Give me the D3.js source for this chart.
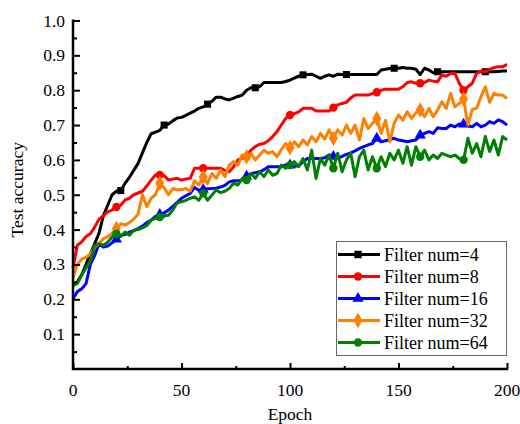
<!DOCTYPE html>
<html><head><meta charset="utf-8">
<script src="https://cdn.jsdelivr.net/npm/d3@7"></script>
<style>body{margin:0;background:#fff}svg{display:block}</style>
</head><body>
<script>
// epochs sampled every 2
const epochs = d3.range(0, 201, 2);
const seriesNames = ["Filter num=4","Filter num=8","Filter num=16","Filter num=32","Filter num=64"];
const acc4 = [0.24,0.25,0.27,0.30,0.33,0.36,0.39,0.44,0.47,0.50,0.51,0.512,0.533,0.55,0.57,0.59,0.62,0.65,0.675,0.68,
0.685,0.70,0.703,0.712,0.72,0.722,0.728,0.734,0.74,0.748,0.752,0.76,0.768,0.78,0.78,0.775,0.772,0.777,0.782,0.786,
0.80,0.807,0.807,0.81,0.822,0.822,0.822,0.822,0.822,0.825,0.829,0.835,0.84,0.844,0.845,0.846,0.84,0.834,0.84,0.844,
0.84,0.846,0.845,0.845,0.845,0.845,0.845,0.845,0.845,0.845,0.845,0.858,0.86,0.862,0.863,0.863,0.865,0.863,0.863,0.86,
0.845,0.863,0.858,0.85,0.853,0.853,0.853,0.853,0.853,0.853,0.853,0.853,0.853,0.853,0.853,0.853,0.853,0.853,0.854,0.855,0.855];
const acc8 = [0.29,0.355,0.365,0.38,0.388,0.407,0.43,0.44,0.451,0.456,0.465,0.47,0.485,0.49,0.50,0.505,0.51,0.525,0.542,0.557,
0.557,0.555,0.542,0.545,0.547,0.542,0.545,0.547,0.576,0.576,0.576,0.576,0.576,0.576,0.576,0.57,0.566,0.58,0.60,0.605,
0.609,0.628,0.638,0.645,0.647,0.655,0.667,0.681,0.70,0.719,0.729,0.733,0.738,0.748,0.748,0.748,0.74,0.74,0.74,0.74,
0.75,0.758,0.762,0.765,0.778,0.786,0.786,0.786,0.786,0.79,0.794,0.80,0.803,0.803,0.803,0.803,0.81,0.822,0.824,0.82,
0.82,0.822,0.829,0.826,0.824,0.844,0.84,0.848,0.848,0.82,0.80,0.81,0.82,0.848,0.855,0.853,0.86,0.865,0.867,0.867,0.874];
const acc16 = [0.202,0.222,0.23,0.245,0.30,0.326,0.36,0.35,0.353,0.362,0.372,0.384,0.386,0.393,0.397,0.403,0.41,0.42,0.427,0.438,
0.443,0.448,0.456,0.467,0.478,0.49,0.497,0.504,0.521,0.513,0.515,0.517,0.518,0.519,0.522,0.527,0.537,0.54,0.54,0.542,
0.553,0.561,0.563,0.566,0.572,0.58,0.58,0.58,0.58,0.586,0.585,0.582,0.583,0.595,0.604,0.604,0.604,0.604,0.606,0.614,
0.61,0.604,0.61,0.616,0.62,0.626,0.633,0.638,0.643,0.647,0.662,0.652,0.655,0.658,0.662,0.657,0.655,0.652,0.655,0.657,
0.671,0.676,0.681,0.676,0.692,0.69,0.69,0.70,0.695,0.703,0.702,0.698,0.695,0.705,0.695,0.70,0.71,0.705,0.715,0.71,0.70];
const acc32 = [0.262,0.30,0.315,0.32,0.33,0.35,0.36,0.374,0.38,0.39,0.403,0.417,0.413,0.42,0.43,0.445,0.50,0.466,0.49,0.50,
0.533,0.52,0.50,0.518,0.514,0.514,0.518,0.51,0.54,0.528,0.551,0.532,0.561,0.547,0.571,0.552,0.585,0.595,0.585,0.614,
0.609,0.619,0.60,0.614,0.628,0.619,0.624,0.609,0.63,0.647,0.635,0.652,0.638,0.657,0.643,0.667,0.652,0.676,0.66,0.686,
0.662,0.686,0.671,0.70,0.676,0.70,0.657,0.719,0.69,0.705,0.719,0.676,0.714,0.652,0.705,0.729,0.714,0.738,0.719,0.735,
0.743,0.724,0.748,0.724,0.743,0.767,0.748,0.791,0.752,0.762,0.775,0.70,0.745,0.748,0.781,0.81,0.765,0.791,0.786,0.786,0.776];
const acc64 = [0.24,0.245,0.269,0.29,0.31,0.355,0.36,0.355,0.364,0.379,0.388,0.38,0.393,0.384,0.398,0.40,0.405,0.412,0.427,0.432,
0.436,0.44,0.441,0.456,0.477,0.48,0.484,0.49,0.494,0.484,0.504,0.484,0.499,0.514,0.506,0.51,0.518,0.533,0.528,0.547,
0.542,0.561,0.547,0.566,0.552,0.571,0.556,0.561,0.585,0.576,0.585,0.595,0.581,0.604,0.571,0.628,0.547,0.604,0.585,0.614,
0.576,0.619,0.566,0.60,0.619,0.552,0.609,0.628,0.571,0.609,0.576,0.609,0.581,0.619,0.60,0.628,0.59,0.638,0.585,0.638,
0.609,0.628,0.60,0.614,0.604,0.619,0.614,0.609,0.614,0.604,0.60,0.662,0.619,0.647,0.609,0.667,0.624,0.657,0.614,0.667,0.657];
const markerEpochs4 = [22,42,62,84,106,126,148,168,190];
const markerEpochsOther = [20,40,60,80,100,120,140,160,180];
const xTicks = [0,50,100,150,200];
const yTicks = [0.1,0.2,0.3,0.4,0.5,0.6,0.7,0.8,0.9,1.0];
const colors = ["#000000","#ff0000","#0000ff","#ff8000","#008000"];
const symbols = [d3.symbolSquare, d3.symbolCircle, d3.symbolTriangle, d3.symbolDiamond, d3.symbolCircle];
const allSeries = [acc4, acc8, acc16, acc32, acc64];

const W = 520, H = 424;
const m = {left:73, right:13, top:20.5, bottom:55};
const svg = d3.select("body").append("svg").attr("width", W).attr("height", H);
const x = d3.scaleLinear().domain([0,200]).range([m.left, W - m.right]);
const y = d3.scaleLinear().domain([0,1]).range([H - m.bottom, m.top]);
const font = "'Liberation Serif','Times New Roman',serif";

const line = d3.line().x((d,i)=>x(epochs[i])).y(d=>y(d));
allSeries.forEach((s, k) => {
  svg.append("path").datum(s).attr("d", line).attr("fill","none")
    .attr("stroke", colors[k]).attr("stroke-width", 3).attr("stroke-linejoin","round");
  const me = k === 0 ? markerEpochs4 : markerEpochsOther;
  const sizes = [50, 55, 55, 70, 55];
  svg.selectAll(null).data(me).enter().append("path")
    .attr("d", d3.symbol().type(symbols[k]).size(sizes[k]))
    .attr("transform", e => `translate(${x(e)},${y(s[epochs.indexOf(e)])})`)
    .attr("fill", colors[k]);
});

// axes (ticks inward)
const xAxis = svg.append("g").attr("transform",`translate(0,${y(0)})`)
  .call(d3.axisTop(x).tickValues(d3.range(0,201,25)).tickSize(5).tickFormat(""));
xAxis.select(".domain").attr("stroke-width",2.5).attr("d",`M${x(0)-1},0H${x(200)+1}`);
xAxis.selectAll(".tick line").attr("stroke-width",2).attr("y2", d => d%50===0 ? -6 : -3);
svg.selectAll(null).data(xTicks).enter().append("text")
  .attr("x", d=>x(d)).attr("y", y(0)+27).attr("text-anchor","middle")
  .attr("font-family",font).attr("font-size",17.5).text(d=>d);

const yAxis = svg.append("g").attr("transform",`translate(${x(0)},0)`)
  .call(d3.axisRight(y).tickValues(d3.range(0.05,1.001,0.05)).tickSize(6).tickFormat(""));
yAxis.select(".domain").attr("stroke-width",2.5).attr("d",`M0,${y(1)-1}V${y(0)+1}`);
yAxis.selectAll(".tick line").attr("stroke-width",2).attr("x2", (d,i) => i%2===1 ? 7 : 4);
svg.selectAll(null).data(yTicks).enter().append("text")
  .attr("x", 65).attr("y", d=>y(d)+6).attr("text-anchor","end")
  .attr("font-family",font).attr("font-size",17.5).text(d=>d.toFixed(1));

svg.append("text").attr("x", x(100)).attr("y", 420).attr("text-anchor","middle")
  .attr("font-family",font).attr("font-size",17.5).text("Epoch");
svg.append("text").attr("transform",`translate(23,${(y(0)+y(1))/2 - 5}) rotate(-90)`)
  .attr("text-anchor","middle").attr("font-family",font).attr("font-size",17.5).text("Test accuracy");

// legend
const lg = svg.append("g");
lg.append("rect").attr("x",336.5).attr("y",241.5).attr("width",170).attr("height",114)
  .attr("fill","#fff").attr("stroke","#666").attr("stroke-width",1);
seriesNames.forEach((n,k) => {
  const yy = 254.5 + k*22;
  lg.append("line").attr("x1",338).attr("x2",380).attr("y1",yy).attr("y2",yy)
    .attr("stroke",colors[k]).attr("stroke-width",3);
  lg.append("path").attr("d", d3.symbol().type(symbols[k]).size(k===3?70:55))
    .attr("transform",`translate(358,${yy})`).attr("fill",colors[k]);
  lg.append("text").attr("x",384).attr("y",yy+6).attr("font-family",font).attr("font-size",18).text(n);
});
</script>
</body></html>
